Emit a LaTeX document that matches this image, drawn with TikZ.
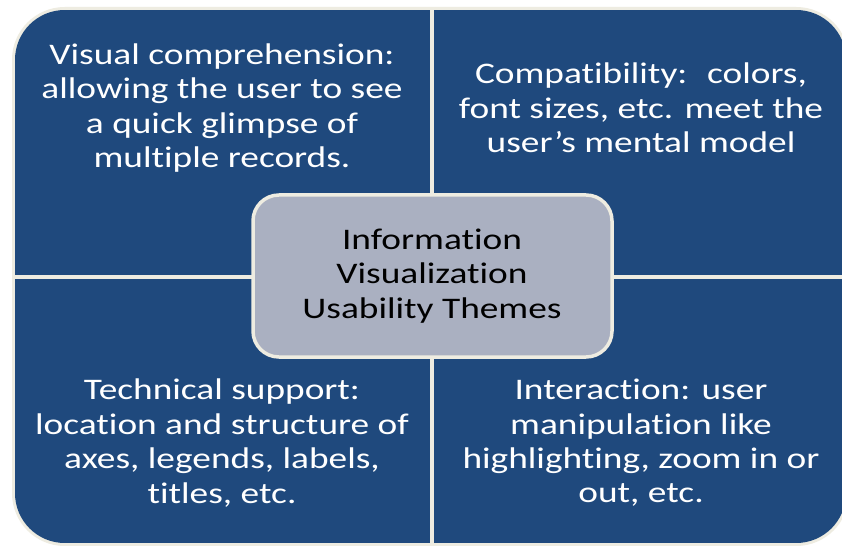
\documentclass[tikz,border=0pt]{standalone}
\usepackage{fontspec}
\setmainfont{Carlito}[FakeStretch=1.25,RawFeature={-liga;-calt;-dlig;-clig}]
\definecolor{qblue}{HTML}{1F497D}
\definecolor{cream}{HTML}{EEECE1}
\definecolor{cgray}{HTML}{AAB0C1}
\begin{document}
\begin{tikzpicture}[x=1bp,y=-1bp,
  qtext/.style={text=white,align=center,font=\fontsize{30}{34.5}\selectfont,inner sep=0pt},
  ctext/.style={text=black,align=center,font=\fontsize{30}{34.5}\selectfont}]
\useasboundingbox (0,0) rectangle (842,546);
\fill[white] (0,0) rectangle (842,546);
\fill[cream,rounded corners=53] (12,7) rectangle (849,546);
\begin{scope}
\clip[rounded corners=50] (15,10) rectangle (846,543);
\fill[qblue] (15,10) rectangle (430,275);
\fill[qblue] (434,10) rectangle (846,275);
\fill[qblue] (15,279) rectangle (430,543);
\fill[qblue] (434,279) rectangle (846,543);
\end{scope}
\node[qtext] (q1) at (222,108) {Visual comprehension:\\allowing the user to see\\a quick glimpse of\\multiple records.};
\node[qtext] (q2) at (641,108) {Compatibility:~ colors,\\font sizes, etc. meet the\\user’s mental model};
\node[qtext] (q3) at (222,443) {Technical support:\\location and structure of\\axes, legends, labels,\\titles, etc.};
\node[qtext] (q4) at (641,443) {Interaction: user\\manipulation like\\highlighting, zoom in or\\out, etc.};
\draw[cream,line width=3.5bp,fill=cgray,rounded corners=26] (253,195) rectangle (612,357);
\node[ctext] (c) at (432,276) {Information\\Visualization\\Usability Themes};
\end{tikzpicture}
\end{document}
